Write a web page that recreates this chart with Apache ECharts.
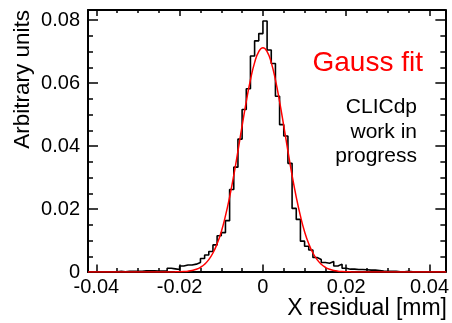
<!DOCTYPE html>
<html>
<head>
<meta charset="utf-8">
<script src="https://cdn.jsdelivr.net/npm/echarts@6/dist/echarts.min.js"></script>
<style>
html,body{margin:0;padding:0;background:#fff;}
#chart{width:452px;height:323px;}
</style>
</head>
<body>
<div id="chart"></div>
<script>
// Histogram binning (lower edge of first bin, bin width)
const binLow = -0.042;
const binWidth = 0.001;
// Histogram contents, one per bin from -0.042 to 0.044
const histValues = [
  0.0, 0.0001, 0.0001, 0.0, 0.0001, 0.0001, 0.0001, 0.0002, 0.0001, 0.0002,
  0.0002, 0.0002, 0.0002, 0.0004, 0.0004, 0.0004, 0.0003, 0.0003, 0.0004, 0.0012,
  0.0010, 0.0008, 0.0019, 0.0022, 0.0022, 0.0025, 0.0030, 0.0043, 0.0054, 0.0065,
  0.0086, 0.0115, 0.0125, 0.0163, 0.0262, 0.0333, 0.0422, 0.0516, 0.0582, 0.0686,
  0.0734, 0.0757, 0.0797, 0.0705, 0.0662, 0.0558, 0.0468, 0.0432, 0.0345, 0.0202,
  0.0167, 0.0098, 0.0082, 0.0070, 0.0046, 0.0040, 0.0030, 0.0028, 0.0033, 0.0019,
  0.0025, 0.0012, 0.0009, 0.0009, 0.0008, 0.0008, 0.0007, 0.0006, 0.0006, 0.0005,
  0.0003, 0.0002, 0.0002, 0.0002, 0.0001, 0.0001, 0.0002, 0.0001, 0.0001, 0.0001,
  0.0, 0.0001, 0.0, 0.0001, 0.0, 0.0
];
// Gauss fit curve
const fitX = [
  -0.042, -0.022, -0.021, -0.020, -0.019, -0.018, -0.017, -0.016, -0.015, -0.014,
  -0.013, -0.012, -0.011, -0.010, -0.009, -0.008, -0.007, -0.006, -0.005, -0.004,
  -0.003, -0.002, -0.001, 0.000, 0.001, 0.002, 0.003, 0.004, 0.005, 0.006,
  0.007, 0.008, 0.009, 0.010, 0.011, 0.012, 0.013, 0.014, 0.015, 0.016,
  0.017, 0.018, 0.019, 0.020, 0.021, 0.022, 0.044
];
const fitY = [
  0, 0.00002, 0.00004, 0.00008, 0.00015, 0.00027, 0.0005, 0.00088, 0.0015, 0.00247,
  0.00393, 0.00603, 0.00894, 0.0128, 0.0178, 0.0238, 0.0307, 0.0384, 0.0464, 0.0541,
  0.0610, 0.0665, 0.0700, 0.0712, 0.0700, 0.0665, 0.0610, 0.0541, 0.0464, 0.0384,
  0.0307, 0.0238, 0.0178, 0.0128, 0.00894, 0.00603, 0.00393, 0.00247, 0.0015, 0.00088,
  0.0005, 0.00027, 0.00015, 0.00008, 0.00004, 0.00002, 0
];
// Axis tick values
const xMajor = [-0.04, -0.02, 0, 0.02, 0.04];
const xMinor = [-0.035, -0.03, -0.025, -0.015, -0.01, -0.005, 0.005, 0.01, 0.015, 0.025, 0.03, 0.035];
const yMajor = [0, 0.02, 0.04, 0.06, 0.08];
const yMinor = [0.005, 0.01, 0.015, 0.025, 0.03, 0.035, 0.045, 0.05, 0.055, 0.065, 0.07, 0.075];
const xRange = [-0.042, 0.0438];
const yRange = [0, 0.0832];

const histData = histValues.map((v, i) => [+(binLow + i * binWidth).toFixed(4), v]);
histData.push([+(binLow + histValues.length * binWidth).toFixed(4), histValues[histValues.length - 1]]);
const fitData = fitX.map((x, i) => [x, fitY[i]]);

const FONT = '"Liberation Sans", Arial, Helvetica, sans-serif';

function xAx(pos, major, len, showLine, showLabel) {
  return {
    type: 'value', position: pos, min: xRange[0], max: xRange[1],
    axisLine: {show: showLine, onZero: false, lineStyle: {color: '#000', width: 2}},
    axisTick: {show: true, inside: true, length: len, customValues: major, lineStyle: {color: '#000', width: 1.5}},
    axisLabel: {show: showLabel, customValues: major, color: '#000', fontSize: 20, fontFamily: FONT, margin: 5},
    splitLine: {show: false}
  };
}
function yAx(pos, major, len, showLine, showLabel) {
  return {
    type: 'value', position: pos, min: yRange[0], max: yRange[1],
    axisLine: {show: showLine, onZero: false, lineStyle: {color: '#000', width: 2}},
    axisTick: {show: true, inside: true, length: len, customValues: major, lineStyle: {color: '#000', width: 1.5}},
    axisLabel: {show: showLabel, customValues: major, color: '#000', fontSize: 20, fontFamily: FONT, margin: 8},
    splitLine: {show: false}
  };
}

const chart = echarts.init(document.getElementById('chart'), null, {renderer: 'canvas'});
chart.setOption({
  animation: false,
  backgroundColor: '#fff',
  grid: {left: 88, right: 4, top: 10, bottom: 51, containLabel: false},
  xAxis: [
    xAx('bottom', xMajor, 7.5, true, true),
    xAx('bottom', xMinor, 4, false, false),
    xAx('top', xMajor, 6, true, false),
    xAx('top', xMinor, 3, false, false)
  ],
  yAxis: [
    yAx('left', yMajor, 10, true, true),
    yAx('left', yMinor, 5, false, false),
    yAx('right', yMajor, 10, true, false),
    yAx('right', yMinor, 5, false, false)
  ],
  series: [
    {
      type: 'line', xAxisIndex: 0, yAxisIndex: 0, data: histData, step: 'end',
      showSymbol: false, symbol: 'none', clip: true,
      lineStyle: {color: '#000', width: 1.6}, z: 3
    },
    {
      type: 'line', xAxisIndex: 0, yAxisIndex: 0, data: fitData, smooth: true,
      showSymbol: false, symbol: 'none', clip: true,
      lineStyle: {color: '#ff0000', width: 1.5}, z: 4
    }
  ],
  graphic: [
    {type: 'text', x: 23, y: 10, rotation: Math.PI / 2,
     style: {text: 'Arbitrary units', fontSize: 22.5, fontFamily: FONT, fill: '#000', align: 'right', verticalAlign: 'middle'}},
    {type: 'text', x: 447, y: 309,
     style: {text: 'X residual [mm]', fontSize: 23, fontFamily: FONT, fill: '#000', align: 'right', verticalAlign: 'middle'}},
    {type: 'text', x: 423, y: 63.5,
     style: {text: 'Gauss fit', fontSize: 28, fontFamily: FONT, fill: '#ff0000', align: 'right', verticalAlign: 'middle'}},
    {type: 'text', x: 417, y: 107.6,
     style: {text: 'CLICdp', fontSize: 21, fontFamily: FONT, fill: '#000', align: 'right', verticalAlign: 'middle'}},
    {type: 'text', x: 417, y: 132.1,
     style: {text: 'work in', fontSize: 21, fontFamily: FONT, fill: '#000', align: 'right', verticalAlign: 'middle'}},
    {type: 'text', x: 417, y: 156.6,
     style: {text: 'progress', fontSize: 21, fontFamily: FONT, fill: '#000', align: 'right', verticalAlign: 'middle'}}
  ]
});
</script>
</body>
</html>
